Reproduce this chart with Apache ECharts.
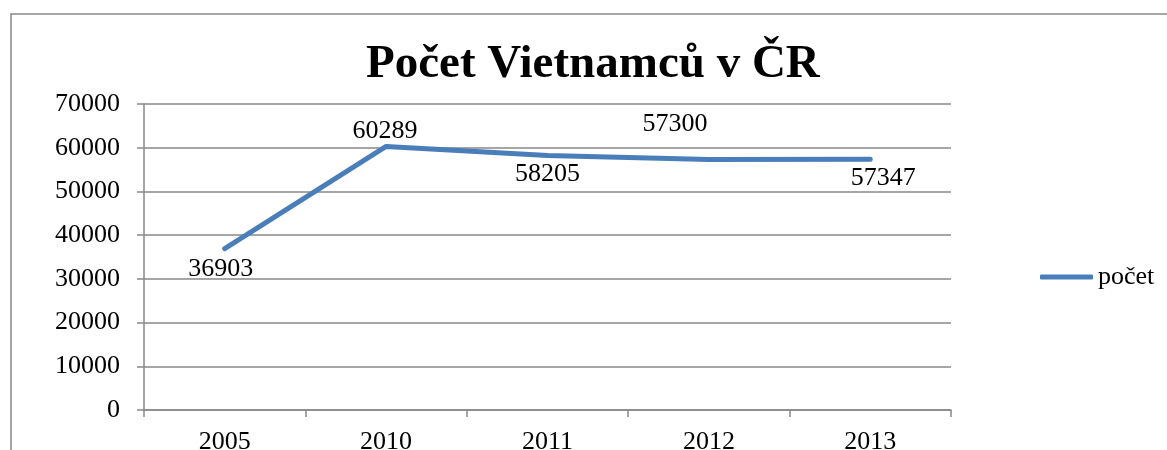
<!DOCTYPE html>
<html>
<head>
<meta charset="utf-8">
<script src="https://cdn.jsdelivr.net/npm/echarts@6/dist/echarts.min.js"></script>
<style>
  html, body { margin: 0; padding: 0; background: #fff; }
  #chart { width: 1167px; height: 450px; }
</style>
</head>
<body>
<div id="chart"></div>
<script>
// data
const years = ['2005', '2010', '2011', '2012', '2013']
const pocet = [36903, 60289, 58205, 57300, 57347]
const yTicks = [0, 10000, 20000, 30000, 40000, 50000, 60000, 70000]

// where each value label sits relative to its point (moved by hand in the original)
const labelShift = [[-4, 20], [-1, -15], [0, 19], [-34, -35], [13, 19]]

const font = '"Liberation Serif", "Times New Roman", serif'
const gray = '#898989'
const blue = '#4a7ebb'

const chart = echarts.init(document.getElementById('chart'))

const option = {
  animation: false,
  backgroundColor: '#fff',
  title: {
    text: 'Počet Vietnamců v ČR',
    left: 366,
    top: 41,
    padding: 0,
    textStyle: { fontFamily: font, fontSize: 47, fontWeight: 'bold', color: '#000' }
  },
  graphic: [
    { // outer frame of the chart area
      type: 'rect',
      shape: { x: 11, y: 14, width: 1300, height: 600 },
      style: { fill: 'none', stroke: gray, lineWidth: 1.5 },
      silent: true
    }
  ],
  legend: {
    left: 1035,
    top: 259,
    icon: 'roundRect',
    itemWidth: 53,
    itemHeight: 5,
    itemGap: 4,
    textStyle: { fontFamily: font, fontSize: 26, color: '#000' },
    data: ['počet']
  },
  grid: { left: 144, right: 216, top: 104, bottom: 40, outerBoundsMode: 'none' },
  xAxis: {
    type: 'category',
    data: years,
    boundaryGap: true,
    axisLine: { lineStyle: { color: gray, width: 1.5 } },
    axisTick: { show: true, length: 7, lineStyle: { color: gray, width: 1.5 } },
    axisLabel: { margin: 19, color: '#000', fontFamily: font, fontSize: 26 },
    splitLine: { show: false }
  },
  yAxis: {
    type: 'value',
    min: yTicks[0],
    max: yTicks[yTicks.length - 1],
    interval: yTicks[1] - yTicks[0],
    axisLine: { show: true, lineStyle: { color: gray, width: 1.5 } },
    axisTick: { show: true, length: 7, lineStyle: { color: gray, width: 1.5 } },
    axisLabel: {
      margin: 24,
      color: '#000',
      fontFamily: font,
      fontSize: 26,
      formatter: v => String(v) // no thousands separator
    },
    splitLine: { show: true, lineStyle: { color: gray, width: 1.5 } }
  },
  series: [
    {
      name: 'počet',
      type: 'line',
      data: pocet.map((v, i) => ({
        value: v,
        label: { offset: labelShift[i] }
      })),
      symbol: 'circle',
      symbolSize: 0.1,
      showSymbol: true,
      lineStyle: { color: blue, width: 5, cap: 'round', join: 'round' },
      itemStyle: { color: blue },
      label: {
        show: true,
        position: 'inside',
        color: '#000',
        fontFamily: font,
        fontSize: 26
      },
      emphasis: { disabled: true }
    }
  ]
}

chart.setOption(option)
</script>
</body>
</html>
